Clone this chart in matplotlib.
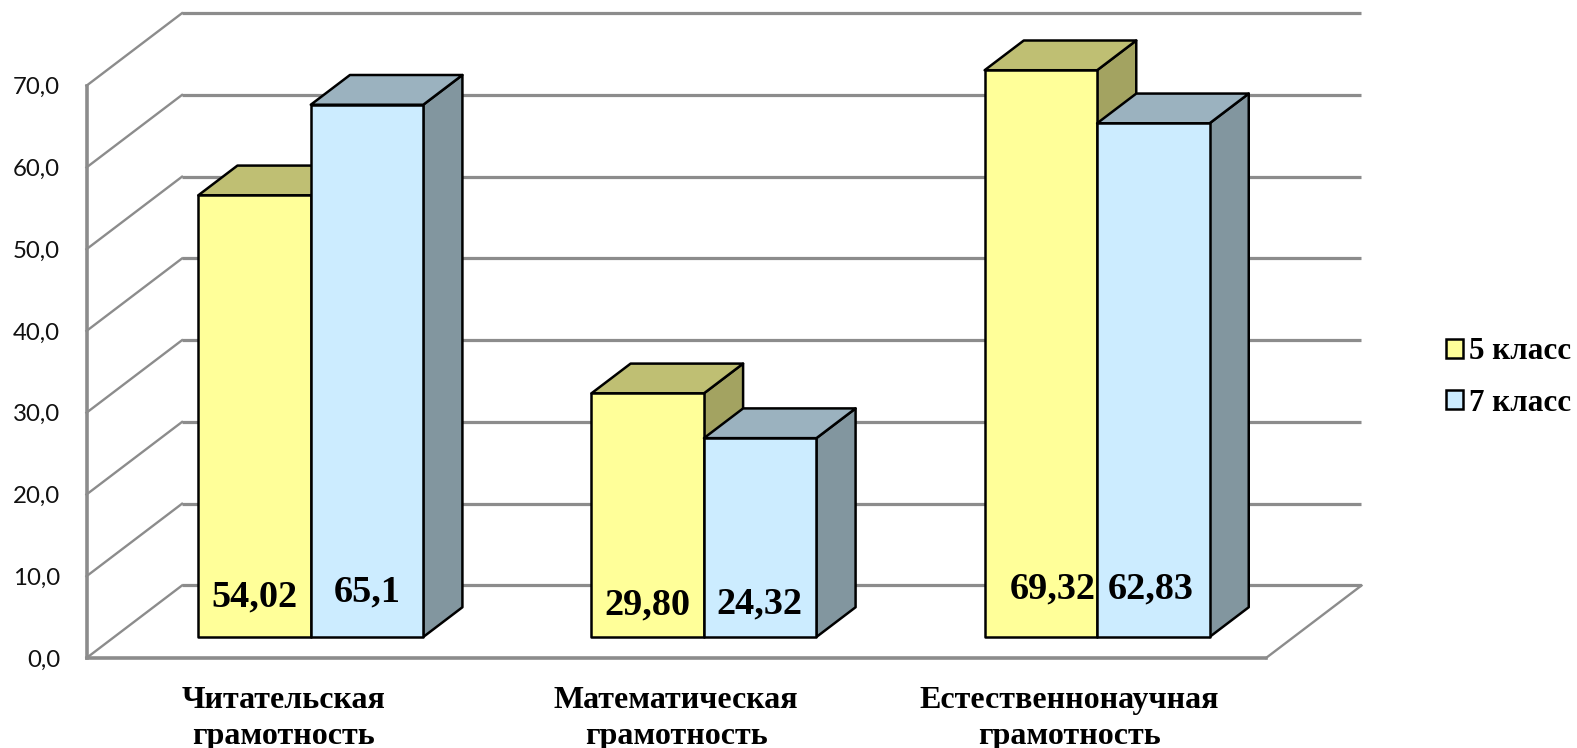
"""3D-style clustered bars drawn on a plain 2D axes (oblique projection)."""
import matplotlib
matplotlib.use("Agg")
import matplotlib.pyplot as plt
from matplotlib.patches import Patch, Polygon

categories = ["Читательская\nграмотность", "Математическая\nграмотность", "Естественнонаучная\nграмотность"]
series_names = ["5 класс", "7 класс"]
values_5 = [54.02, 29.80, 69.32]
values_7 = [65.1, 24.32, 62.83]
labels_5 = ["54,02", "29,80", "69,32"]
labels_7 = ["65,1", "24,32", "62,83"]
y_ticks = [0, 10, 20, 30, 40, 50, 60, 70]

W, H = 1577, 748
# Wall depth in data units: x in categories, y in chart values
DEPTH_X = 95.5 / 393.2
DEPTH_Y = 72.5 / 8.174
BAR_W = 112.5 / 393.2
BAR_D0, BAR_D1 = 0.29, 0.70
GRID = "#8c8c8c"

FACES = [
    ("#FFFF99", "#BFBF73", "#A3A361"),
    ("#CCECFF", "#9BB2BF", "#82969F"),
]
# Where the value labels sit: pixel offset from the bottom centre of the bar
LABEL_OFFSETS = [
    [(0, 40), (0, 45)],
    [(0, 32), (-1, 33)],
    [(12, 48), (-3, 48)],
]


def project(x, y, d):
    return x + d * DEPTH_X, y + d * DEPTH_Y


def draw_bar(ax, x, value, faces, z):
    front, top, side = faces
    x1 = x + BAR_W
    a = [project(x, 0, BAR_D0), project(x1, 0, BAR_D0),
         project(x1, value, BAR_D0), project(x, value, BAR_D0)]
    b = [project(x, value, BAR_D0), project(x1, value, BAR_D0),
         project(x1, value, BAR_D1), project(x, value, BAR_D1)]
    c = [project(x1, 0, BAR_D0), project(x1, 0, BAR_D1),
         project(x1, value, BAR_D1), project(x1, value, BAR_D0)]
    for pts, color in ((c, side), (b, top), (a, front)):
        ax.add_patch(Polygon(pts, closed=True, facecolor=color, edgecolor="black",
                             linewidth=1.8, joinstyle="round", zorder=z, clip_on=False))


fig = plt.figure(figsize=(W / 100, H / 100), dpi=100, facecolor="white")
ax = fig.add_axes([86.5 / W, 1 - 658 / H, (1266 - 86.5) / W, (658 - 85.7) / H])
ax.set_xlim(0, 3)
ax.set_ylim(0, 70)

# Walls and floor
for v in y_ticks:
    bx, by = project(0, v, 1)
    ex, ey = project(3, v, 1)
    ax.plot([bx, ex], [by, ey], color=GRID, lw=2.3, zorder=1, clip_on=False, solid_capstyle="butt")
    ax.plot([0, bx], [v, by], color=GRID, lw=1.7, zorder=1, clip_on=False)
ax.plot([3, project(3, 0, 1)[0]], [0, project(3, 0, 1)[1]], color=GRID, lw=1.7, zorder=1, clip_on=False)

for s in ("top", "right"):
    ax.spines[s].set_visible(False)
for s in ("left", "bottom"):
    ax.spines[s].set_color(GRID)
    ax.spines[s].set_linewidth(2.6)

ax.set_yticks(y_ticks)
ax.set_yticklabels([f"{v:.1f}".replace(".", ",") for v in y_ticks], family="Lato", fontsize=17.3, color="#111111")
ax.tick_params(axis="y", length=0, pad=19)

ax.set_xticks([0.5, 1.5, 2.5])
ax.set_xticklabels(categories, family="Liberation Serif", fontweight="bold", fontsize=23, linespacing=1.33)
ax.tick_params(axis="x", length=0, pad=20)

# Bars, in drawing order so that the overlaps come out right
for i in range(len(categories)):
    x0 = i + 0.5 - BAR_W
    draw_bar(ax, x0, values_5[i], FACES[0], 3 + i * 2)
    draw_bar(ax, x0 + BAR_W, values_7[i], FACES[1], 4 + i * 2)

    for j, text in enumerate((labels_5[i], labels_7[i])):
        xc, yc = project(x0 + BAR_W * (j + 0.5), 0, BAR_D0)
        ax.annotate(text, xy=(xc, yc), xytext=LABEL_OFFSETS[i][j], textcoords="offset pixels",
                    ha="center", va="center", family="Liberation Serif", fontweight="bold",
                    fontsize=27.5, color="black", zorder=20, annotation_clip=False)

handles = [Patch(facecolor=FACES[k][0], edgecolor="black", linewidth=1.8) for k in range(2)]
fig.legend(handles, series_names, loc="center left", bbox_to_anchor=(1446 / W, 1 - 377.5 / H),
           frameon=False, borderpad=0, borderaxespad=0, handlelength=0.55, handleheight=0.55,
           handletextpad=0.2, labelspacing=0.72,
           prop={"family": "Liberation Serif", "weight": "bold", "size": 22.4})

fig.savefig("out.png", dpi=100)
